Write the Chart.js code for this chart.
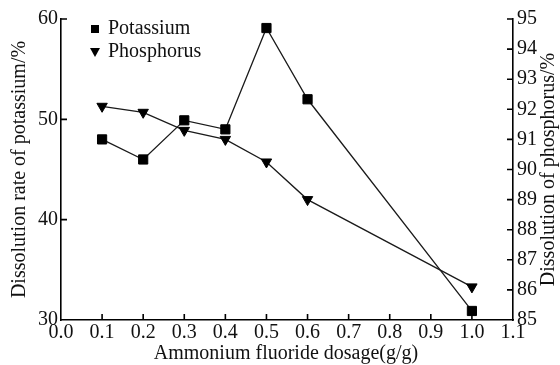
<!DOCTYPE html>
<html><head><meta charset="utf-8">
<script src="https://cdn.jsdelivr.net/npm/chart.js@4/dist/chart.umd.min.js"></script>
<style>html,body{margin:0;padding:0;background:#fff}#wrap{width:560px;height:365px}</style>
</head><body><div id="wrap"><canvas id="c" width="560" height="365"></canvas></div>
<script>
const dosage = [0.1, 0.2, 0.3, 0.4, 0.5, 0.6, 1.0];
const potassium = [48.0, 46.0, 49.9, 49.0, 59.1, 52.0, 30.9];
const phosphorus = [92.1, 91.9, 91.3, 91.0, 90.25, 89.0, 86.1];
const seriesNames = ['Potassium', 'Phosphorus'];
const xTitle = 'Ammonium fluoride dosage(g/g)';
const yTitle = 'Dissolution rate of potassium/%';
const y1Title = 'Dissolution of phosphorus/%';

const FONT = '"Liberation Serif", "Times New Roman", serif';
const FS = 20;
const TXT = '#111';

const extras = {
  id: 'extras',
  afterDraw(chart) {
    const ctx = chart.ctx, a = chart.chartArea;
    const sx = chart.scales.x, sy = chart.scales.y, sy1 = chart.scales.y1;
    ctx.save();
    ctx.strokeStyle = '#000'; ctx.lineWidth = 1.6;
    ctx.beginPath();
    sx.ticks.forEach(t => { const p = sx.getPixelForValue(t.value); if (p > a.left + 1 && p < a.right - 1) { ctx.moveTo(p, a.bottom); ctx.lineTo(p, a.bottom - 6); } });
    sy.ticks.forEach(t => { const p = sy.getPixelForValue(t.value); if (p < a.bottom - 1) { ctx.moveTo(a.left, p); ctx.lineTo(a.left + 6, p); } });
    sy1.ticks.forEach(t => { const p = sy1.getPixelForValue(t.value); if (p < a.bottom - 1) { ctx.moveTo(a.right, p); ctx.lineTo(a.right - 6, p); } });
    ctx.stroke();
    // titles
    ctx.fillStyle = TXT;
    ctx.font = FS + 'px ' + FONT;
    ctx.textAlign = 'center'; ctx.textBaseline = 'middle';
    ctx.fillText(xTitle, (a.left + a.right) / 2 - 1, 354);
    ctx.save(); ctx.translate(20, (a.top + a.bottom) / 2); ctx.rotate(-Math.PI / 2); ctx.fillText(yTitle, 0, 0); ctx.restore();
    ctx.save(); ctx.translate(549, (a.top + a.bottom) / 2); ctx.rotate(-Math.PI / 2); ctx.fillText(y1Title, 0, 0); ctx.restore();
    // legend
    ctx.textAlign = 'left';
    const lx = a.left + 34;
    ctx.fillStyle = '#000';
    ctx.fillRect(lx - 4, 25, 8, 8);
    ctx.beginPath(); ctx.moveTo(lx - 5, 48); ctx.lineTo(lx + 5, 48); ctx.lineTo(lx, 57); ctx.closePath(); ctx.fill();
    ctx.fillStyle = TXT;
    ctx.fillText(seriesNames[0], lx + 13, 29);
    ctx.fillText(seriesNames[1], lx + 13, 52);
    ctx.restore();
  }
};

new Chart(document.getElementById('c'), {
  type: 'line',
  data: {
    datasets: [
      { label: seriesNames[0], data: dosage.map((x, i) => ({ x, y: potassium[i] })), yAxisID: 'y',
        borderColor: '#1a1a1a', borderWidth: 1.3, backgroundColor: '#000', pointStyle: 'rect', pointRadius: 6.5,
        pointBorderColor: '#000', pointBorderWidth: 1, tension: 0 },
      { label: seriesNames[1], data: dosage.map((x, i) => ({ x, y: phosphorus[i] })), yAxisID: 'y1',
        borderColor: '#1a1a1a', borderWidth: 1.3, backgroundColor: '#000', pointStyle: 'triangle', rotation: 180, pointRadius: 6,
        pointBorderColor: '#000', pointBorderWidth: 1, tension: 0 }
    ]
  },
  options: {
    responsive: false, animation: false, devicePixelRatio: 1,
    layout: { padding: { top: 19, left: 0, right: 0, bottom: 0 } },
    plugins: { legend: { display: false }, tooltip: { enabled: false } },
    scales: {
      x: { type: 'linear', min: 0, max: 1.1,
        ticks: { stepSize: 0.1, padding: 1, color: TXT, font: { family: FONT, size: FS }, callback: v => v.toFixed(1), maxRotation: 0, autoSkip: false },
        grid: { display: true, drawOnChartArea: false, drawTicks: false },
        border: { color: '#000', width: 1.6 },
        afterFit: s => { s.height = 45; } },
      y: { position: 'left', min: 30, max: 60,
        ticks: { stepSize: 10, padding: 3, color: TXT, font: { family: FONT, size: FS } },
        grid: { display: true, drawOnChartArea: false, drawTicks: false },
        border: { color: '#000', width: 1.6 },
        afterFit: s => { s.width = 61; } },
      y1: { position: 'right', min: 85, max: 95,
        ticks: { stepSize: 1, padding: 4, color: TXT, font: { family: FONT, size: FS } },
        grid: { display: true, drawOnChartArea: false, drawTicks: false },
        border: { color: '#000', width: 1.6 },
        afterFit: s => { s.width = 47; } }
    }
  },
  plugins: [extras]
});
</script></body></html>
